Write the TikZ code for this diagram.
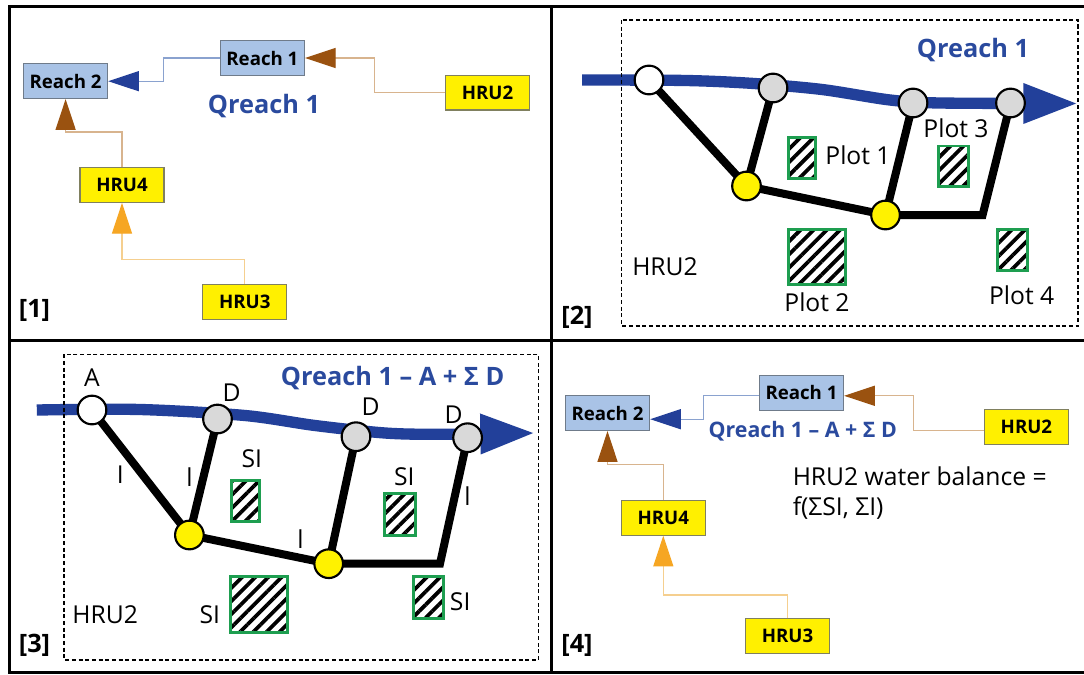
\documentclass[tikz,border=0pt]{standalone}
\usepackage{fontspec}
\setmainfont{Open Sans}
\usetikzlibrary{arrows.meta,patterns.meta,calc}
\pgfdeclarelayer{background}
\pgfsetlayers{background,main}
\definecolor{reachfill}{HTML}{A9C3E6}
\definecolor{reachdraw}{HTML}{6F7B8A}
\definecolor{hrufill}{HTML}{FFF000}
\definecolor{hrudraw}{HTML}{80805F}
\definecolor{bluelink}{HTML}{8AA2CF}
\definecolor{tanlink}{HTML}{D8B48E}
\definecolor{orlink}{HTML}{F5CF8F}
\definecolor{tipblue}{HTML}{233F98}
\definecolor{tipbrown}{HTML}{9A5210}
\definecolor{tiporange}{HTML}{F6A623}
\definecolor{qblue}{HTML}{2A4A9E}
\definecolor{riverblue}{HTML}{22409A}
\definecolor{nodegray}{HTML}{D9D9D9}
\definecolor{nodeyellow}{HTML}{FFF200}
\definecolor{plotgreen}{HTML}{1E9E50}
\begin{document}
\begin{tikzpicture}[x=0.75pt,y=-0.75pt,
  reach/.style={draw=reachdraw, line width=0.9pt, fill=reachfill, minimum width=63pt, minimum height=26pt, inner sep=0pt, font=\fontsize{14}{16}\selectfont\bfseries},
  hru/.style={reach, draw=hrudraw, fill=hrufill},
  qlabel/.style={text=qblue, font=\fontsize{19}{22}\selectfont\bfseries, inner sep=0pt},
  qsmall/.style={text=qblue, font=\fontsize{16}{19}\selectfont\bfseries, inner sep=0pt},
  lbl/.style={font=\fontsize{18.5}{22}\selectfont, inner sep=0pt},
  tag/.style={font=\fontsize{19}{22}\selectfont\bfseries, inner sep=0pt},
  frame/.style={line width=2.25pt},
  hrubox/.style={draw, dash pattern=on 3pt off 2pt, line width=1.1pt},
  river/.style={draw=riverblue, line width=8.5pt, -{Triangle[length=41pt,width=28pt]}},
  trail/.style={line width=6pt, line join=miter},
  wnode/.style={circle, draw, line width=1.6pt, fill=white, minimum size=21.5pt, inner sep=0pt},
  gnode/.style={wnode, fill=nodegray},
  ynode/.style={wnode, fill=nodeyellow},
  plotbox/.style={draw=plotgreen, line width=2.2pt, pattern={Lines[angle=45,distance=7pt,line width=2.8pt]}, pattern color=black, inner sep=0pt},
  blink/.style={draw=bluelink, line width=0.9pt, -{Triangle[length=23pt,width=15pt,color=tipblue]}},
  tlink/.style={draw=tanlink, line width=0.9pt, -{Triangle[length=23pt,width=15pt,color=tipbrown]}},
  olink/.style={draw=orlink, line width=0.9pt, -{Triangle[length=23pt,width=15pt,color=tiporange]}}
]
\begin{pgfonlayer}{background}
\fill[white] (0,0) rectangle (1084,674);
\end{pgfonlayer}
\useasboundingbox (0,0) rectangle (1084,674);

% ---------- Panel 1 ----------
\node[reach] (r2a) at (65.6,81.2) {Reach 2};
\node[reach] (r1a) at (262.4,58) {Reach 1};
\node[hru] (h2a) at (487.5,92.7) {HRU2};
\node[hru] (h4a) at (122,185) {HRU4};
\node[hru] (h3a) at (244.8,301.8) {HRU3};
\node[qlabel] (qa) at (264,106) {Qreach 1};
\node[tag] (ta) at (34.5,310) {[1]};
\draw[blink] (r1a.west) -- ++(-56.1,0) |- (r2a.east);
\draw[tlink] (h2a.west) -- ++(-70.2,0) |- (r1a.east);
\draw[tlink] (h4a.north) -- ++(0,-35) -| (r2a.south);
\draw[olink] (h3a.north) -- ++(0,-24.3) -| (h4a.south);

% ---------- Panel 2 ----------
\draw[hrubox] (621.5,20) rectangle (1078,326);
\node[plotbox, minimum width=20.3pt, minimum height=30.8pt] (p1) at (802,158.3) {};
\node[plotbox, minimum width=22.5pt, minimum height=30.5pt] (p3) at (953.5,166.3) {};
\node[plotbox, minimum width=42.7pt, minimum height=41pt] (p2) at (816.8,256.7) {};
\node[plotbox, minimum width=22.5pt, minimum height=31pt] (p4) at (1012.4,250) {};
\node[wnode] (W2) at (649,80) {};
\node[gnode] (G21) at (773,88) {};
\node[gnode] (G22) at (913,103) {};
\node[gnode] (G23) at (1010.5,103) {};
\coordinate (c2) at (982.6,215);
\node[ynode] (Y21) at (746.5,186) {};
\node[ynode] (Y22) at (885.5,215) {};
\begin{pgfonlayer}{background}
\draw[river] plot[smooth,tension=0.5] coordinates {(582,80) (686,80.5) (754,83.5) (822,89.5) (890,100) (940,103) (1078,103.5)};
\draw[trail] (W2.center) -- (Y21.center);
\draw[trail] (G21.center) -- (Y21.center);
\draw[trail] (Y21.center) -- (Y22.center) -- (c2) -- (G23.center);
\draw[trail] (G22.center) -- (Y22.center);
\end{pgfonlayer}
\node[qlabel] (qb) at (973,50) {Qreach 1};
\node[lbl] (lp1) at (858,155) {Plot 1};
\node[lbl] (lp3) at (956,128) {Plot 3};
\node[lbl] (lp2) at (817,302) {Plot 2};
\node[lbl] (lp4) at (1021.7,295) {Plot 4};
\node[lbl] (hb) at (665,267) {HRU2};
\node[tag] (tb) at (577,317) {[2]};

% ---------- Panel 3 ----------
\draw[hrubox] (64.2,354.3) rectangle (538.4,660);
\node[plotbox, minimum width=21pt, minimum height=31pt] (s1) at (245.4,500.7) {};
\node[plotbox, minimum width=23.5pt, minimum height=31.3pt] (s2) at (400,514.2) {};
\node[plotbox, minimum width=43.3pt, minimum height=41.7pt] (s3) at (258.9,604.5) {};
\node[plotbox, minimum width=23pt, minimum height=31.2pt] (s4) at (428.5,597.5) {};
\node[wnode] (W3) at (92,410) {};
\node[gnode] (G31) at (217.5,419) {};
\node[gnode] (G32) at (356,436.7) {};
\node[gnode] (G33) at (467.6,437.7) {};
\coordinate (c3) at (440,563.7);
\node[ynode] (Y31) at (189.4,535) {};
\node[ynode] (Y32) at (328.7,563.7) {};
\begin{pgfonlayer}{background}
\draw[river] plot[smooth,tension=0.5] coordinates {(36.8,410) (140,409.5) (245,415.5) (315,425.5) (385,433) (440,434.3) (535,433)};
\draw[trail] (W3.center) -- (Y31.center);
\draw[trail] (G31.center) -- (Y31.center);
\draw[trail] (Y31.center) -- (Y32.center) -- (c3) -- (G33.center);
\draw[trail] (G32.center) -- (Y32.center);
\end{pgfonlayer}
\node[qlabel] (qc) at (392.6,378) {Qreach 1 – A + Σ D};
\node[lbl] (la) at (92,378) {A};
\node[lbl] (ld1) at (231.5,393) {D};
\node[lbl] (ld2) at (370.7,406.7) {D};
\node[lbl] (ld3) at (453.5,414.3) {D};
\node[lbl] (li1) at (120.3,475) {I};
\node[lbl] (li2) at (189.4,476.7) {l};
\node[lbl] (li3) at (300.6,539) {l};
\node[lbl] (li4) at (467.6,496) {l};
\node[lbl] (ls1) at (251.8,458.3) {SI};
\node[lbl] (ls2) at (404.4,476.7) {SI};
\node[lbl] (ls3) at (209.8,615) {SI};
\node[lbl] (ls4) at (460.2,601.7) {SI};
\node[lbl] (hc) at (105.2,615) {HRU2};
\node[tag] (tc) at (34.5,645) {[3]};

% ---------- Panel 4 ----------
\node[reach] (r2d) at (607.5,413.2) {Reach 2};
\node[reach] (r1d) at (801.5,392.8) {Reach 1};
\node[hru] (h2d) at (1026.4,427) {HRU2};
\node[hru] (h4d) at (663.3,517.8) {HRU4};
\node[hru] (h3d) at (787.5,636) {HRU3};
\node[qsmall] (qd) at (802.8,431) {Qreach 1 – A + Σ D};
\node[lbl, anchor=west] (wb1) at (792.5,476.7) {HRU2 water balance =};
\node[lbl, anchor=west] (wb2) at (792.5,508.3) {f(ΣSI, ΣI)};
\node[tag] (td) at (577,645) {[4]};
\draw[blink] ([yshift=-2.25pt]r1d.west) -- ++(-55.7,0) |- ([yshift=-4.5pt]r2d.east);
\draw[tlink] ([yshift=-2.75pt]h2d.west) -- ++(-70.4,0) |- ([yshift=-2.25pt]r1d.east);
\draw[tlink] (h4d.north) -- ++(0,-35.3) -| (r2d.south);
\draw[olink] (h3d.north) -- ++(0,-23) -| (h4d.south);

% ---------- Frame ----------
\draw[frame] (1084,7) -- (9.5,7) -- (9.5,672) -- (1084,672);
\draw[frame] (551.5,7) -- (551.5,672);
\draw[frame] (9.5,340) -- (1084,340);
\end{tikzpicture}
\end{document}
